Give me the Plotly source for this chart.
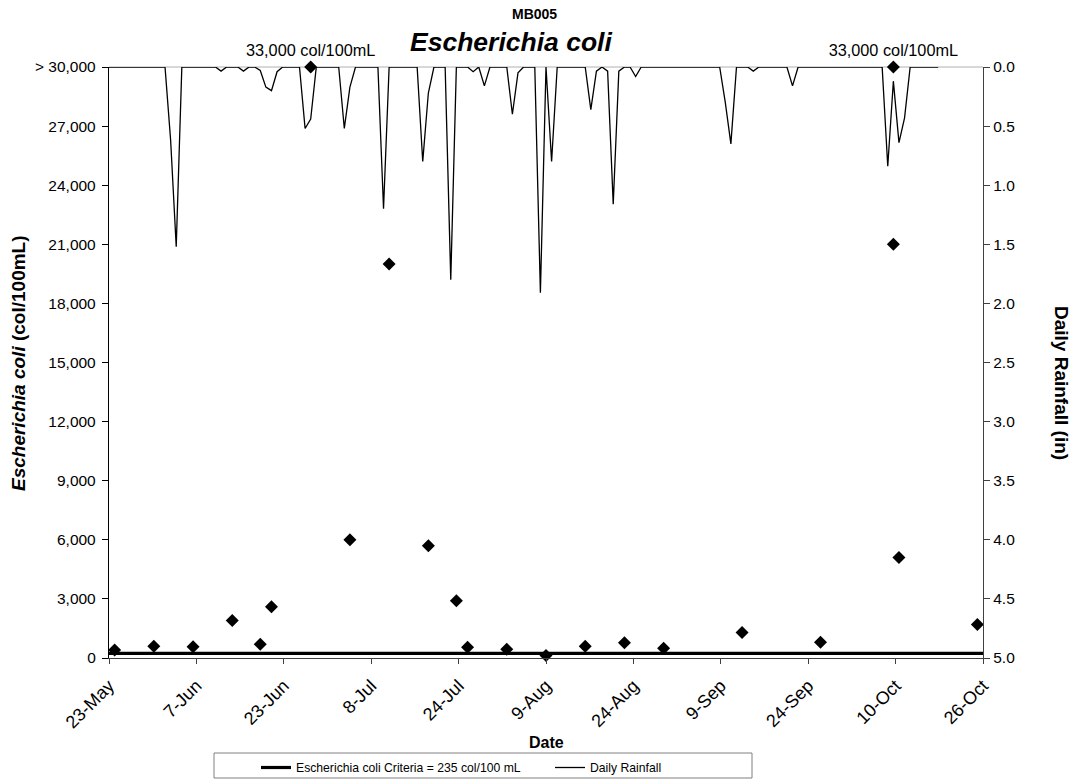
import pandas as pd
import plotly.graph_objects as go

# ---- data -------------------------------------------------------------
start_date = "2007-05-23"
end_date = "2007-10-26"

# daily rainfall (in), one value per day starting 23-May
rainfall_in = [
    0, 0, 0, 0, 0, 0, 0, 0, 0, 0,
    0, 0.62, 1.52, 0, 0, 0, 0, 0, 0, 0,
    0.035, 0, 0, 0, 0.035, 0, 0, 0.03, 0.17, 0.20,
    0.04, 0, 0, 0, 0, 0.52, 0.44, 0, 0, 0,
    0, 0, 0.52, 0.17, 0, 0, 0, 0, 0, 1.20,
    0, 0, 0, 0, 0, 0, 0.80, 0.22, 0, 0,
    0, 1.80, 0, 0, 0, 0.04, 0, 0.16, 0, 0,
    0, 0, 0.40, 0.05, 0, 0, 0, 1.91, 0, 0.80,
    0, 0, 0, 0, 0, 0, 0.36, 0.035, 0, 0.035,
    1.16, 0.035, 0, 0, 0.08, 0, 0, 0, 0, 0,
    0, 0, 0, 0, 0, 0, 0, 0, 0, 0,
    0.30, 0.65, 0, 0, 0, 0.035, 0, 0, 0, 0,
    0, 0, 0.16, 0, 0, 0, 0, 0, 0, 0,
    0, 0, 0, 0, 0, 0, 0, 0, 0, 0.84,
    0.12, 0.64, 0.43, 0, 0, 0, 0, 0, 0,
]

sample_dates = [
    "2007-05-24", "2007-05-31", "2007-06-07", "2007-06-14", "2007-06-19",
    "2007-06-21", "2007-06-28", "2007-07-05", "2007-07-12", "2007-07-19",
    "2007-07-24", "2007-07-26", "2007-08-02", "2007-08-09", "2007-08-16",
    "2007-08-23", "2007-08-30", "2007-09-13", "2007-09-27", "2007-10-10",
    "2007-10-10", "2007-10-11", "2007-10-25",
]
ecoli_col_100ml = [
    400, 600, 570, 1900, 700,
    2600, 33000, 6000, 20000, 5700,
    2900, 540, 440, 130, 600,
    780, 490, 1300, 800, 33000,
    21000, 5100, 1700,
]

criteria = 235
y_cap = 30000

y_tickvals = [0, 3000, 6000, 9000, 12000, 15000, 18000, 21000, 24000, 27000, 30000]
y_ticktext = ["0", "3,000", "6,000", "9,000", "12,000", "15,000", "18,000",
              "21,000", "24,000", "27,000", "> 30,000"]
rain_tickvals = [0, 0.5, 1.0, 1.5, 2.0, 2.5, 3.0, 3.5, 4.0, 4.5, 5.0]
x_ticktext = ["23-May", "7-Jun", "23-Jun", "8-Jul", "24-Jul", "9-Aug",
              "24-Aug", "9-Sep", "24-Sep", "10-Oct", "26-Oct"]

# ---- derived ----------------------------------------------------------
t0 = pd.Timestamp(start_date)
t1 = pd.Timestamp(end_date)
rain_dates = [t0 + pd.Timedelta(days=i) for i in range(len(rainfall_in))]
n_div = len(x_ticktext) - 1
x_tickvals = [t0 + (t1 - t0) * k / n_div for k in range(n_div + 1)]
x_range = [t0, t1]

plotted = [min(v, y_cap) for v in ecoli_col_100ml]
labels = [f"{v:,} col/100mL" if v > y_cap else "" for v in ecoli_col_100ml]

W, H = 1078, 781
ML, MR, MT, MB = 109, 95, 67, 123
PW, PH = W - ML - MR, H - MT - MB


def px_x(x):
    return (x - ML) / PW


def px_y(y):
    return (H - MB - y) / PH


FONT = "Arial, 'Liberation Sans', sans-serif"
fig = go.Figure()

fig.add_trace(go.Scatter(
    x=[t0, t1], y=[criteria, criteria], mode="lines",
    line=dict(color="black", width=3.2),
    name="Escherichia coli Criteria = 235 col/100 mL",
    xaxis="x", yaxis="y", cliponaxis=False,
))
fig.add_trace(go.Scatter(
    x=rain_dates, y=rainfall_in, mode="lines",
    line=dict(color="black", width=1.3),
    name="Daily Rainfall", xaxis="x", yaxis="y2",
))
fig.add_trace(go.Scatter(
    x=pd.to_datetime(sample_dates), y=plotted, mode="markers+text",
    text=labels, textposition="top center",
    textfont=dict(family=FONT, size=16.3, color="black"),
    marker=dict(symbol="diamond", size=10, color="black"),
    showlegend=False, cliponaxis=False, xaxis="x", yaxis="y",
))

yaxis_font = dict(family=FONT, size=15.5, color="black")
xaxis_font = dict(family=FONT, size=18, color="black")
fig.update_layout(
    width=W, height=H,
    margin=dict(l=ML, r=MR, t=MT, b=MB),
    paper_bgcolor="white", plot_bgcolor="white",
    font=dict(family=FONT, color="black"),
    showlegend=True,
    legend=dict(
        orientation="h", xref="container", yref="container",
        x=256 / W, xanchor="left", y=1 - 753 / H, yanchor="top",
        font=dict(family=FONT, size=12.2, color="black"),
        borderwidth=0, bgcolor="rgba(0,0,0,0)",
        entrywidth=249, entrywidthmode="pixels",
        tracegroupgap=0, itemwidth=30,
    ),
    xaxis=dict(
        type="date", range=x_range, tickvals=x_tickvals, ticktext=x_ticktext,
        tickangle=-45, tickfont=xaxis_font, ticks="outside", ticklen=5,
        ticklabelstandoff=4,
        tickcolor="#404040", showline=True, linecolor="#404040", linewidth=1.3,
        showgrid=False, zeroline=False, anchor="y",
    ),
    xaxis2=dict(
        type="date", range=x_range, tickvals=x_tickvals, ticks="inside",
        ticklen=5, tickcolor="#404040", showticklabels=False, showline=False,
        showgrid=False, zeroline=False, overlaying="x", anchor="y",
    ),
    yaxis=dict(
        range=[0, y_cap], tickvals=y_tickvals, ticktext=y_ticktext,
        tickfont=yaxis_font, ticks="outside", ticklen=6, tickcolor="black",
        ticklabelstandoff=3,
        showline=True, linecolor="black", linewidth=1.3,
        showgrid=False, zeroline=False, anchor="x",
    ),
    yaxis3=dict(
        range=[0, y_cap], tickvals=y_tickvals, ticks="inside", ticklen=6,
        tickcolor="black", showticklabels=False, showline=False,
        showgrid=False, zeroline=False, overlaying="y", anchor="x",
    ),
    yaxis2=dict(
        range=[5, 0], tickvals=rain_tickvals, tickformat=".1f",
        tickfont=yaxis_font, ticks="outside", ticklen=6, tickcolor="#404040",
        showline=True, linecolor="#404040", linewidth=1.3,
        showgrid=False, zeroline=False, overlaying="y", side="right", anchor="x",
    ),
    yaxis4=dict(
        range=[5, 0], tickvals=rain_tickvals, ticks="inside", ticklen=6,
        tickcolor="#404040", showticklabels=False, showline=False,
        showgrid=False, zeroline=False, overlaying="y", side="right", anchor="x",
    ),
    shapes=[
        # light plot-area border along the top
        dict(type="line", xref="paper", yref="paper", x0=0, x1=1, y0=1, y1=1,
             line=dict(color="#b0b0b0", width=1), layer="below"),
        # legend frame
        dict(type="rect", xref="paper", yref="paper",
             x0=px_x(214), x1=px_x(752), y0=px_y(778), y1=px_y(753),
             line=dict(color="#808080", width=1),
             fillcolor="rgba(0,0,0,0)", layer="above"),
    ],
    annotations=[
        dict(text="<b>MB005</b>", xref="paper", yref="paper",
             x=px_x(534), y=px_y(14), xanchor="center", yanchor="middle",
             showarrow=False, font=dict(family=FONT, size=14, color="black")),
        dict(text="<b><i>Escherichia coli</i></b>", xref="paper", yref="paper",
             x=px_x(511), y=px_y(42), xanchor="center", yanchor="middle",
             showarrow=False, font=dict(family=FONT, size=26.5, color="black")),
        dict(text="<b>Date</b>", xref="paper", yref="paper",
             x=0.5, y=px_y(742), xanchor="center", yanchor="middle",
             showarrow=False, font=dict(family=FONT, size=16, color="black")),
        dict(text="<b><i>Escherichia coli</i> (col/100mL)</b>",
             xref="paper", yref="paper", x=px_x(18), y=px_y(363),
             xanchor="center", yanchor="middle", textangle=-90,
             showarrow=False, font=dict(family=FONT, size=19, color="black")),
        dict(text="<b>Daily Rainfall (in)</b>",
             xref="paper", yref="paper", x=px_x(1062), y=px_y(383),
             xanchor="center", yanchor="middle", textangle=90,
             showarrow=False, font=dict(family=FONT, size=19, color="black")),
    ],
)

fig.write_html("out.html")
